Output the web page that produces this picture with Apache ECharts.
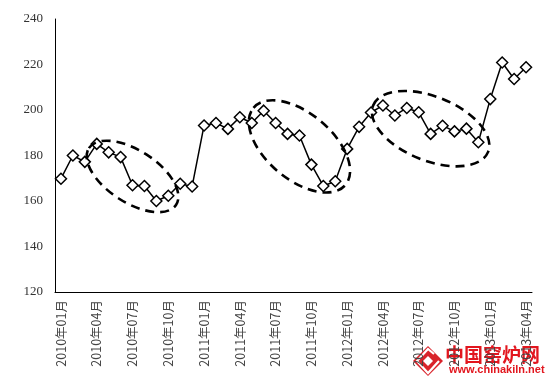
<!DOCTYPE html>
<html>
<head>
<meta charset="utf-8">
<script src="https://cdn.jsdelivr.net/npm/echarts@6/dist/echarts.min.js"></script>
<style>html,body{margin:0;padding:0;background:#fff}#c{width:550px;height:383px}</style>
</head>
<body>
<div id="c"></div>
<script>
// months 2010-01 .. 2013-04
const years = [2010, 2011, 2012, 2013];
const months = [];
years.forEach(function (y) {
  const n = y === 2013 ? 4 : 12;
  for (let m = 1; m <= n; m++) months.push(y + '年' + (m < 10 ? '0' + m : m) + '月');
});
const values = [
  169.8, 180, 177.2, 185.1, 181.4, 179.3, 166.9, 166.6, 160, 162.3, 167.6, 166.4,
  193.2, 194.3, 191.7, 196.8, 194.3, 199.7, 194.3, 189.5, 188.8, 176, 166.6, 168.7,
  182.9, 192.6, 198.9, 202, 197.6, 200.9, 199, 189.5, 193.1, 190.6, 191.8, 185.8,
  204.8, 220.9, 213.6, 218.8
];
const yTicks = [120, 140, 160, 180, 200, 220, 240];
// dashed ellipse annotations: centre in data coordinates [category index, value]
const ellipseCentres = [[6.05, 170.8], [19.6, 184], [30.8, 191.8]];
const ellipseRadii = [[52, 26], [60, 33], [62, 32]];
const ellipseTiltDeg = [33, 40, 22];

const chart = echarts.init(document.getElementById('c'), null, {renderer: 'canvas'});
chart.setOption({
  animation: false,
  backgroundColor: '#fff',
  grid: {left: 55, right: 18, top: 19, bottom: 91, containLabel: false},
  xAxis: {
    type: 'category',
    data: months,
    boundaryGap: true,
    axisLine: {lineStyle: {color: '#000', width: 1}},
    axisTick: {show: false},
    axisLabel: {
      interval: 2, rotate: 90, margin: 8, color: '#444',
      fontFamily: 'Noto Sans CJK SC', fontSize: 12.5
    },
    splitLine: {show: false}
  },
  yAxis: {
    type: 'value',
    min: yTicks[0], max: yTicks[yTicks.length - 1], interval: 20,
    axisLine: {show: true, lineStyle: {color: '#000', width: 1}},
    axisTick: {show: false},
    axisLabel: {margin: 12, color: '#333', fontFamily: 'Liberation Serif', fontSize: 13},
    splitLine: {show: false}
  },
  series: [{
    type: 'line',
    data: values,
    symbol: 'diamond',
    symbolSize: 11,
    showAllSymbol: true,
    lineStyle: {color: '#000', width: 1.5},
    itemStyle: {color: '#fff', borderColor: '#000', borderWidth: 1.5},
    z: 3
  }]
});

const graphics = [];
ellipseCentres.forEach(function (c, i) {
  const p = chart.convertToPixel({gridIndex: 0}, c);
  graphics.push({
    type: 'ellipse',
    x: p[0], y: p[1],
    rotation: -ellipseTiltDeg[i] * Math.PI / 180,
    shape: {cx: 0, cy: 0, rx: ellipseRadii[i][0], ry: ellipseRadii[i][1]},
    style: {fill: null, stroke: '#000', lineWidth: 2.6, lineDash: [9, 6]},
    z: 10, silent: true
  });
});
// watermark logo
graphics.push({
  type: 'group', left: 410, top: 344, z: 20, silent: true,
  children: [
    {type: 'rect', shape: {x: -2, y: 0, width: 132, height: 33}, style: {fill: 'rgba(255,255,255,0.55)'}},
    {type: 'polygon', shape: {points: [[16, 2], [31, 17], [16, 32], [1, 17]]}, style: {fill: '#d9232a'}},
    {type: 'polyline', shape: {points: [[22, 10], [16, 5], [5, 17], [16, 29], [27, 17]]}, style: {stroke: '#fff', lineWidth: 2.2, fill: null}},
    {type: 'polygon', shape: {points: [[16, 12], [21, 17], [16, 22], [11, 17]]}, style: {fill: '#fff'}},
    {type: 'text', x: 33, y: 1, style: {text: '中国窑炉网', fill: '#e2161e', font: 'bold 19px "Noto Sans CJK SC"'}},
    {type: 'text', x: 37, y: 20, style: {text: 'www.chinakiln.net', fill: '#e2161e', font: 'bold 11px "Liberation Sans"'}}
  ]
});
chart.setOption({graphic: graphics});
</script>
</body>
</html>
